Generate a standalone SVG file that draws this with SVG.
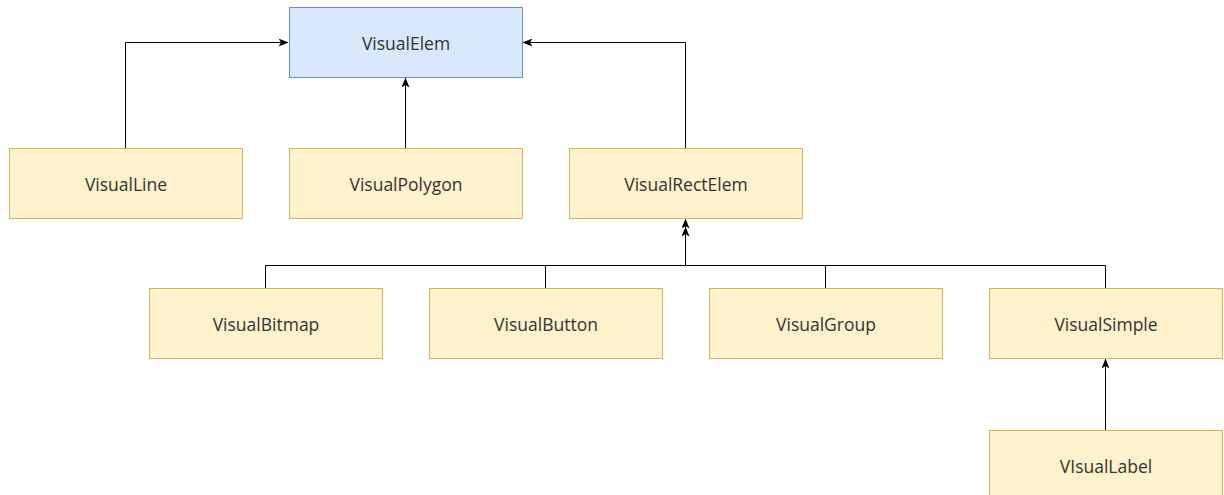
<svg xmlns="http://www.w3.org/2000/svg" width="1224" height="495" viewBox="0 0 1224 495">
  <style>
    .y { fill: #fff2cc; stroke: #d6b656; stroke-width: 1; }
    .b { fill: #dae8fc; stroke: #6c8ebf; stroke-width: 1; }
    .t { font-family: "Open Sans", "Noto Sans", sans-serif; font-size: 17.5px; fill: #333333; text-anchor: middle; dominant-baseline: central; }
    .c { fill: none; stroke: #000000; stroke-width: 1; }
  </style>
  <defs>
    <marker id="arr" viewBox="0 0 10 8" refX="9.5" refY="4" markerWidth="10" markerHeight="8" markerUnits="userSpaceOnUse" orient="auto">
      <path d="M0,0 L10,4 L0,8 L2.5,4 Z" fill="#000000"/>
    </marker>
  </defs>
  <rect width="1224" height="495" fill="#ffffff"/>

  <g id="connectors">
    <path class="c" d="M125.5,148 V42.5 H288" marker-end="url(#arr)"/>
    <path class="c" d="M405.5,148 V78" marker-end="url(#arr)"/>
    <path class="c" d="M685.5,148 V42.5 H523" marker-end="url(#arr)"/>
    <path class="c" d="M265.5,288 V265.5 H685.5"/>
    <path class="c" d="M545.5,288 V265.5"/>
    <path class="c" d="M825.5,288 V265.5 H685.5"/>
    <path class="c" d="M1105.5,288 V265.5 H685.5 V227" marker-end="url(#arr)"/>
    <path class="c" d="M685.5,230 V219" marker-end="url(#arr)"/>
    <path class="c" d="M1105.5,430 V359" marker-end="url(#arr)"/>
  </g>

  <g id="VisualElem">
    <rect class="b" x="289.5" y="7.5" width="233" height="70"/>
    <text class="t" x="406" y="42.5">VisualElem</text>
  </g>
  <g id="VisualLine">
    <rect class="y" x="9.5" y="148.5" width="233" height="70"/>
    <text class="t" x="126" y="183.5">VisualLine</text>
  </g>
  <g id="VisualPolygon">
    <rect class="y" x="289.5" y="148.5" width="233" height="70"/>
    <text class="t" x="406" y="183.5">VisualPolygon</text>
  </g>
  <g id="VisualRectElem">
    <rect class="y" x="569.5" y="148.5" width="233" height="70"/>
    <text class="t" x="686" y="183.5">VisualRectElem</text>
  </g>
  <g id="VisualBitmap">
    <rect class="y" x="149.5" y="288.5" width="233" height="70"/>
    <text class="t" x="266" y="323.5">VisualBitmap</text>
  </g>
  <g id="VisualButton">
    <rect class="y" x="429.5" y="288.5" width="233" height="70"/>
    <text class="t" x="546" y="323.5">VisualButton</text>
  </g>
  <g id="VisualGroup">
    <rect class="y" x="709.5" y="288.5" width="233" height="70"/>
    <text class="t" x="826" y="323.5">VisualGroup</text>
  </g>
  <g id="VisualSimple">
    <rect class="y" x="989.5" y="288.5" width="233" height="70"/>
    <text class="t" x="1106" y="323.5">VisualSimple</text>
  </g>
  <g id="VIsualLabel">
    <rect class="y" x="989.5" y="430.5" width="233" height="70"/>
    <text class="t" x="1106" y="465.5">VIsualLabel</text>
  </g>
</svg>
